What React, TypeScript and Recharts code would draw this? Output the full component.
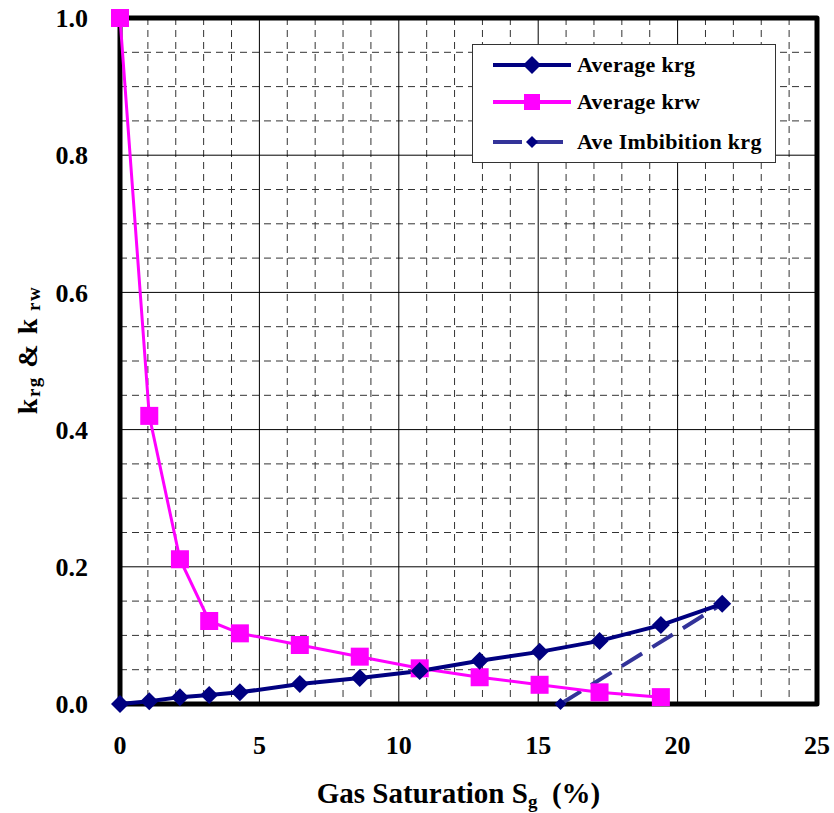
import { LineChart, Line, XAxis, YAxis, CartesianGrid, Legend, ReferenceArea } from 'recharts';

// gas saturation (%) and relative permeabilities
const sgDrainage = [0, 1.05, 2.15, 3.2, 4.3, 6.45, 8.6, 10.75, 12.9, 15.05, 17.2, 19.4, 21.6];
const krgAverage = [0.0, 0.004, 0.01, 0.013, 0.017, 0.029, 0.038, 0.048, 0.063, 0.076, 0.092, 0.115, 0.146];
const krwAverage = [1.0, 0.42, 0.211, 0.121, 0.103, 0.086, 0.069, 0.052, 0.039, 0.028, 0.017, 0.01];
const sgImbibition = [15.8, 21.6];
const krgImbibition = [0.0, 0.146];

const xTicks = [0, 5, 10, 15, 20, 25];
const yTicks = [0, 0.2, 0.4, 0.6, 0.8, 1.0];
const xMinor = [1, 2, 3, 4, 6, 7, 8, 9, 11, 12, 13, 14, 16, 17, 18, 19, 21, 22, 23, 24];
const yMinor = [0.05, 0.1, 0.15, 0.25, 0.3, 0.35, 0.45, 0.5, 0.55, 0.65, 0.7, 0.75, 0.85, 0.9, 0.95];

const krgData = sgDrainage.map((sg, i) => ({ sg, kr: krgAverage[i] }));
const krwData = krwAverage.map((kr, i) => ({ sg: sgDrainage[i], kr }));
const imbData = sgImbibition.map((sg, i) => ({ sg, kr: krgImbibition[i] }));

const NAVY = '#000080';
const MAGENTA = '#ff00ff';
const IMB = '#333399';
const FONT = '"Liberation Serif", "Times New Roman", serif';

const diamond = (r: number, fill: string) => (props: any) => {
  const { cx, cy, index } = props;
  if (cx == null || cy == null) return <g key={index} />;
  return (
    <polygon key={index} points={`${cx},${cy - r} ${cx + r},${cy} ${cx},${cy + r} ${cx - r},${cy}`} fill={fill} />
  );
};

const square = (r: number, fill: string) => (props: any) => {
  const { cx, cy, index } = props;
  if (cx == null || cy == null) return <g key={index} />;
  return <rect key={index} x={cx - r} y={cy - r} width={2 * r} height={2 * r} fill={fill} />;
};

const legendItems = [
  { name: 'Average krg', color: NAVY, marker: 'diamond', dash: undefined },
  { name: 'Average krw', color: MAGENTA, marker: 'square', dash: undefined },
  { name: 'Ave Imbibition krg', color: IMB, marker: 'small', dash: '29 12' },
];

function LegendBox() {
  return (
    <div style={{ width: 302, height: 117, border: '1px solid #333', background: '#fff', position: 'relative' }}>
      {legendItems.map((it, i) => (
        <div key={it.name} style={{ position: 'absolute', left: 0, top: [1, 38, 78][i], height: 38, display: 'flex', alignItems: 'center' }}>
          <svg width={104} height={38}>
            <line x1={20} x2={98} y1={19} y2={19} stroke={it.color} strokeWidth={4} strokeDasharray={it.dash} />
            {it.marker === 'diamond' && <polygon points="59,10 68,19 59,28 50,19" fill={NAVY} />}
            {it.marker === 'square' && <rect x={51} y={11} width={16} height={16} fill={MAGENTA} />}
            {it.marker === 'small' && <polygon points="59,13 65,19 59,25 53,19" fill={NAVY} />}
          </svg>
          <span style={{ fontFamily: FONT, fontWeight: 'bold', fontSize: 22, letterSpacing: 0.3, color: '#000' }}>{it.name}</span>
        </div>
      ))}
    </div>
  );
}

const XTitle = (props: any) => {
  const { viewBox } = props;
  return (
    <text x={viewBox.x + viewBox.width / 2 - 10} y={viewBox.y + 99} textAnchor="middle" fontFamily={FONT} fontWeight="bold" fontSize={29} fill="#000">
      Gas Saturation S<tspan fontSize={19} dy={5}>g</tspan>
      <tspan dy={-5}>{'\u00a0\u00a0(%)'}</tspan>
    </text>
  );
};

const YTitle = () => {
  const cx = 27;
  const cy = 350;
  return (
    <text x={cx} y={cy} transform={`rotate(-90, ${cx}, ${cy})`} textAnchor="middle" dominantBaseline="central" fontFamily={FONT} fontWeight="bold" fontSize={28} letterSpacing={1.5} fill="#000">
      k<tspan fontSize={19} dy={6}>rg</tspan>
      <tspan dy={-6}> &amp; k</tspan>
      <tspan fontSize={19} dy={6}>{'\u00a0rw'}</tspan>
    </text>
  );
};

const tickStyle = { fontFamily: FONT, fontWeight: 'bold', fontSize: 26, fill: '#000' };

export default function App() {
  return (
    <div style={{ position: 'absolute', left: 0, top: 0, background: '#fff' }}>
      <LineChart width={834} height={813} margin={{ top: 18, right: 17, bottom: 0, left: 0 }}>
        <CartesianGrid verticalValues={xMinor} horizontalValues={yMinor} stroke="#333" strokeDasharray="7 5" />
        <CartesianGrid verticalValues={xTicks} horizontalValues={yTicks} stroke="#000" />
        <XAxis
          type="number"
          dataKey="sg"
          domain={[0, 25]}
          ticks={xTicks}
          height={109}
          tickSize={0}
          tickMargin={32}
          axisLine={false}
          tick={tickStyle}
          label={{ content: XTitle }}
        />
        <YAxis
          type="number"
          domain={[0, 1]}
          ticks={yTicks}
          width={120}
          tickSize={0}
          tickMargin={32}
          axisLine={false}
          tick={tickStyle}
          tickFormatter={(v: number) => v.toFixed(1)}
          label={{ content: YTitle }}
        />
        <ReferenceArea x1={0} x2={25} y1={0} y2={1} fill="none" stroke="#000" strokeWidth={5} strokeLinejoin="round" fillOpacity={0} />
        <Line data={imbData} dataKey="kr" stroke={IMB} strokeWidth={4} strokeDasharray="24 12" dot={diamond(6, NAVY)} activeDot={false} isAnimationActive={false} />
        <Line data={krwData} dataKey="kr" stroke={MAGENTA} strokeWidth={3} dot={square(9, MAGENTA)} activeDot={false} isAnimationActive={false} />
        <Line data={krgData} dataKey="kr" stroke={NAVY} strokeWidth={4} dot={diamond(9, NAVY)} activeDot={false} isAnimationActive={false} />
        <Legend
          layout="vertical"
          align="center"
          verticalAlign="middle"
          content={() => <LegendBox />}
          wrapperStyle={{ left: 472, top: 44, width: 304, height: 119 }}
        />
      </LineChart>
    </div>
  );
}
